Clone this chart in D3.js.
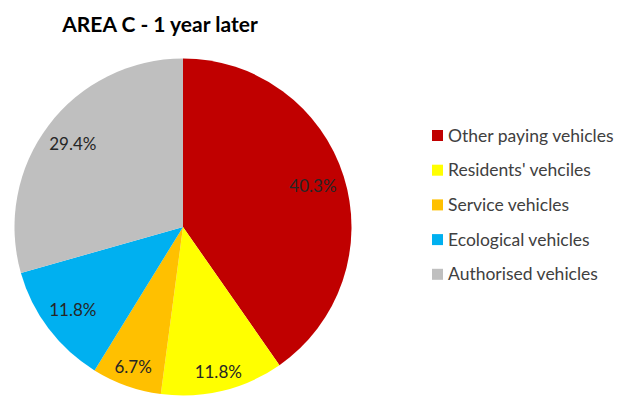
<!DOCTYPE html>
<html>
<head>
<meta charset="utf-8">
<script src="https://cdn.jsdelivr.net/npm/d3@7"></script>
<style>
  body { margin: 0; background: #fff; }
  text { font-family: Lato, "Open Sans", sans-serif; }
</style>
</head>
<body>
<div id="chart"></div>
<script>
// data
const categories = ["Other paying vehicles", "Residents' vehciles", "Service vehicles", "Ecological vehicles", "Authorised vehicles"]
const shares = [40.3, 11.8, 6.7, 11.8, 29.4]
const colours = ["#c00000", "#ffff00", "#ffc000", "#00b0f0", "#bfbfbf"]

const width = 617, height = 396
const cx = 183, cy = 227, radius = 168.5
const labelInset = 8   // gap between label box and the rim

const svg = d3.select("#chart")
  .append("svg")
    .attr("width", width)
    .attr("height", height)

// title
svg.append("text")
  .attr("x", 160)
  .attr("y", 32)
  .attr("text-anchor", "middle")
  .style("font-size", "21px")
  .style("font-weight", "bold")
  .style("fill", "#000")
  .text("AREA C - 1 year later")

const pieData = d3.pie().sort(null).value(d => d)(shares)

const arc = d3.arc().innerRadius(0).outerRadius(radius)

const g = svg.append("g")
  .attr("transform", `translate(${cx},${cy})`)

g.selectAll("path")
  .data(pieData)
  .join("path")
    .attr("d", arc)
    .attr("fill", (d, i) => colours[i])

// labels sit inside the rim, pushed in by their own box size (like "best fit")
g.selectAll("text")
  .data(pieData)
  .join("text")
    .attr("text-anchor", "middle")
    .attr("dy", "0.35em")
    .style("font-size", "17px")
    .style("fill", "#262626")
    .text(d => d.data.toFixed(1) + "%")
    .attr("transform", function (d) {
      const a = (d.startAngle + d.endAngle) / 2
      const sx = Math.sin(a), sy = -Math.cos(a)
      const w = this.getBBox().width
      const ext = Math.abs(sx) * w / 2 + Math.abs(sy) * 6
      const r = radius - labelInset - ext
      return `translate(${sx * r},${sy * r})`
    })

// legend
const legend = svg.append("g")
  .attr("transform", "translate(432,135.5)")

const rows = legend.selectAll("g")
  .data(categories)
  .join("g")
    .attr("transform", (d, i) => `translate(0,${i * 34.7})`)

rows.append("rect")
  .attr("x", 0)
  .attr("y", -5.5)
  .attr("width", 11)
  .attr("height", 11)
  .attr("fill", (d, i) => colours[i])

rows.append("text")
  .attr("x", 16)
  .attr("dy", "0.35em")
  .style("font-size", "17.5px")
  .style("fill", "#404040")
  .text(d => d)
</script>
</body>
</html>
